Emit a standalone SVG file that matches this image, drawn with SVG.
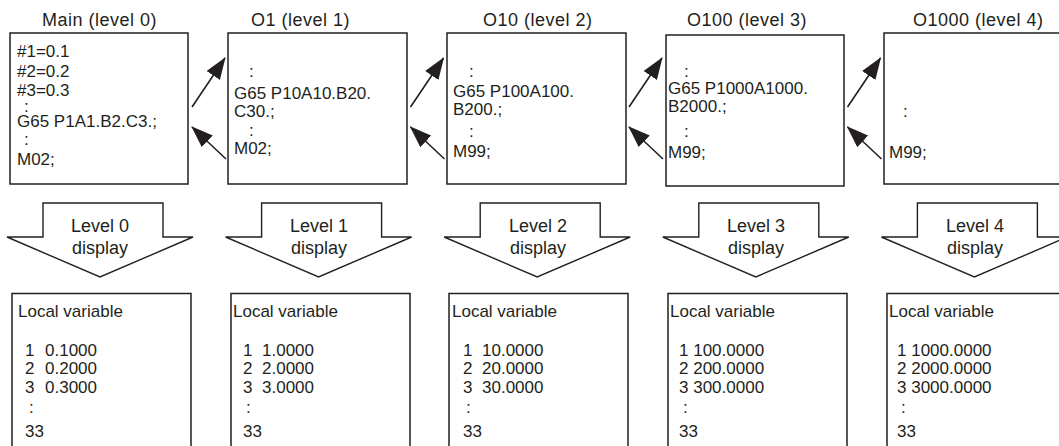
<svg xmlns="http://www.w3.org/2000/svg" width="1059" height="446" viewBox="0 0 1059 446">
<style>
text{font-family:"Liberation Sans",Arial,Helvetica,sans-serif;fill:#231f20}
.title{font-size:18px;letter-spacing:0.5px}
.code{font-size:17px}
.lvl{font-size:18px;text-anchor:middle}
.box{fill:#fff;stroke:#231f20;stroke-width:1.5}
.larrow{fill:#fff;stroke:#231f20;stroke-width:1.4;stroke-linejoin:miter}
.conn{fill:none;stroke:#231f20;stroke-width:1.6}
</style>
<defs>
<marker id="ah" markerUnits="userSpaceOnUse" markerWidth="22" markerHeight="16" viewBox="0 0 22 16" refX="21" refY="8" orient="auto">
<path d="M0,0 L22,8 L0,16 z" fill="#231f20"/>
</marker>
</defs>

<!-- Titles -->
<g id="titles">
<text class="title" x="42" y="26">Main (level 0)</text>
<text class="title" x="251" y="26">O1 (level 1)</text>
<text class="title" x="483" y="26">O10 (level 2)</text>
<text class="title" x="687" y="26">O100 (level 3)</text>
<text class="title" x="913" y="26">O1000 (level 4)</text>
</g>

<!-- Program boxes -->
<g id="main">
<rect class="box" x="10" y="33" width="178" height="151"/>
<text class="code"><tspan x="17" y="57">#1=0.1</tspan><tspan x="17" y="77">#2=0.2</tspan><tspan x="17" y="96">#3=0.3</tspan><tspan x="24" y="112">:</tspan><tspan x="17" y="127">G65 P1A1.B2.C3.;</tspan><tspan x="24" y="145">:</tspan><tspan x="17" y="165">M02;</tspan></text>
</g>
<g id="o1">
<rect class="box" x="228" y="33" width="179" height="151"/>
<text class="code" x="249" y="77">:</text>
<text class="code" x="234" y="99">G65 P10A10.B20.</text>
<text class="code" x="234" y="117">C30.;</text>
<text class="code" x="249" y="136">:</text>
<text class="code" x="234" y="154">M02;</text>
</g>
<g id="o10">
<rect class="box" x="447" y="33" width="179" height="151"/>
<text class="code" x="469" y="77">:</text>
<text class="code" x="453" y="97">G65 P100A100.</text>
<text class="code" x="453" y="115">B200.;</text>
<text class="code" x="469" y="137">:</text>
<text class="code" x="453" y="157">M99;</text>
</g>
<g id="o100">
<rect class="box" x="666" y="35" width="178" height="151"/>
<text class="code" x="684" y="77">:</text>
<text class="code" x="668" y="94">G65 P1000A1000.</text>
<text class="code" x="668" y="112">B2000.;</text>
<text class="code" x="684" y="137">:</text>
<text class="code" x="668" y="158">M99;</text>
</g>
<g id="o1000">
<rect class="box" x="884" y="33" width="179" height="151"/>
<text class="code" x="903" y="117">:</text>
<text class="code" x="889" y="158">M99;</text>
</g>

<!-- Call / return connectors -->
<g id="connectors">
<line class="conn" x1="192" y1="107" x2="225" y2="58" marker-end="url(#ah)"/>
<line class="conn" x1="226" y1="159" x2="192" y2="127" marker-end="url(#ah)"/>
<line class="conn" x1="410.5" y1="107" x2="443.5" y2="58" marker-end="url(#ah)"/>
<line class="conn" x1="444.5" y1="159" x2="410.5" y2="127" marker-end="url(#ah)"/>
<line class="conn" x1="629" y1="107" x2="662" y2="58" marker-end="url(#ah)"/>
<line class="conn" x1="663" y1="159" x2="629" y2="127" marker-end="url(#ah)"/>
<line class="conn" x1="847.5" y1="107" x2="880.5" y2="58" marker-end="url(#ah)"/>
<line class="conn" x1="881.5" y1="159" x2="847.5" y2="127" marker-end="url(#ah)"/>
</g>

<!-- Level display arrows -->
<g id="level0">
<polygon class="larrow" points="43,203 163,203 163,237 193,237 100,277 7,237 43,237"/>
<text class="lvl" x="100" y="232">Level 0</text>
<text class="lvl" x="100" y="254">display</text>
</g>
<g id="level1">
<polygon class="larrow" points="261.6,203 381.6,203 381.6,237 411.6,237 318.6,277 225.6,237 261.6,237"/>
<text class="lvl" x="319" y="232">Level 1</text>
<text class="lvl" x="319" y="254">display</text>
</g>
<g id="level2">
<polygon class="larrow" points="480.2,203 600.2,203 600.2,237 630.2,237 537.2,277 444.2,237 480.2,237"/>
<text class="lvl" x="538" y="232">Level 2</text>
<text class="lvl" x="538" y="254">display</text>
</g>
<g id="level3">
<polygon class="larrow" points="698.8,203 818.8,203 818.8,237 848.8,237 755.8,277 662.8,237 698.8,237"/>
<text class="lvl" x="756" y="232">Level 3</text>
<text class="lvl" x="756" y="254">display</text>
</g>
<g id="level4">
<polygon class="larrow" points="917.4,203 1037.4,203 1037.4,237 1067.4,237 974.4,277 881.4,237 917.4,237"/>
<text class="lvl" x="975" y="232">Level 4</text>
<text class="lvl" x="975" y="254">display</text>
</g>

<!-- Local variable boxes -->
<g id="lv0">
<rect class="box" x="12" y="293.5" width="179" height="160"/>
<text class="code" x="18" y="317">Local variable</text>
<text class="code" x="25" y="356">1</text><text class="code" x="45" y="356">0.1000</text>
<text class="code" x="25" y="374">2</text><text class="code" x="45" y="374">0.2000</text>
<text class="code" x="25" y="393">3</text><text class="code" x="45" y="393">0.3000</text>
<text class="code" x="29" y="413">:</text>
<text class="code" x="25" y="437">33</text>
</g>
<g id="lv1">
<rect class="box" x="231" y="293.5" width="179" height="160"/>
<text class="code" x="233" y="317">Local variable</text>
<text class="code" x="243" y="356">1</text><text class="code" x="262" y="356">1.0000</text>
<text class="code" x="243" y="374">2</text><text class="code" x="262" y="374">2.0000</text>
<text class="code" x="243" y="393">3</text><text class="code" x="262" y="393">3.0000</text>
<text class="code" x="246" y="413">:</text>
<text class="code" x="243" y="437">33</text>
</g>
<g id="lv2">
<rect class="box" x="449" y="293.5" width="179" height="160"/>
<text class="code" x="452" y="317">Local variable</text>
<text class="code" x="463" y="356">1</text><text class="code" x="482" y="356">10.0000</text>
<text class="code" x="463" y="374">2</text><text class="code" x="482" y="374">20.0000</text>
<text class="code" x="463" y="393">3</text><text class="code" x="482" y="393">30.0000</text>
<text class="code" x="466" y="413">:</text>
<text class="code" x="463" y="437">33</text>
</g>
<g id="lv3">
<rect class="box" x="668" y="293.5" width="179" height="160"/>
<text class="code" x="670" y="317">Local variable</text>
<text class="code" x="679" y="356">1 100.0000</text>
<text class="code" x="679" y="374">2 200.0000</text>
<text class="code" x="679" y="393">3 300.0000</text>
<text class="code" x="683" y="413">:</text>
<text class="code" x="679" y="437">33</text>
</g>
<g id="lv4">
<rect class="box" x="887" y="293.5" width="179" height="160"/>
<text class="code" x="889" y="317">Local variable</text>
<text class="code" x="897" y="356">1 1000.0000</text>
<text class="code" x="897" y="374">2 2000.0000</text>
<text class="code" x="897" y="393">3 3000.0000</text>
<text class="code" x="901" y="413">:</text>
<text class="code" x="897" y="437">33</text>
</g>
</svg>
